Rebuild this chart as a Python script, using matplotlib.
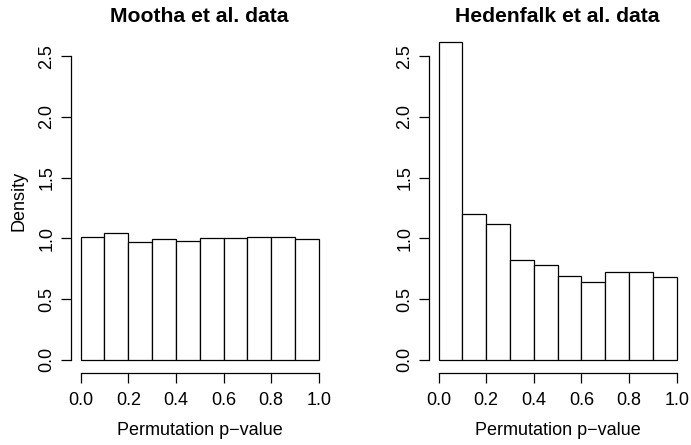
import matplotlib
matplotlib.use("Agg")
import matplotlib.pyplot as plt

plt.rcParams['font.family'] = ['Liberation Sans', 'DejaVu Sans']

# histogram bins (left edges) and densities for the two data sets
bin_left = [0.0, 0.1, 0.2, 0.3, 0.4, 0.5, 0.6, 0.7, 0.8, 0.9]
bin_width = 0.1
mootha = [1.014, 1.044, 0.970, 0.992, 0.978, 1.003, 1.000, 1.011, 1.014, 0.997]
hedenfalk = [2.617, 1.202, 1.120, 0.825, 0.781, 0.689, 0.639, 0.721, 0.724, 0.683]
titles = ["Mootha et al. data", "Hedenfalk et al. data"]
xticks = [0.0, 0.2, 0.4, 0.6, 0.8, 1.0]
yticks = [0.0, 0.5, 1.0, 1.5, 2.0, 2.5]

fig = plt.figure(figsize=(6.91, 4.45), dpi=100)
ax1 = fig.add_axes([0.103, 0.1625, 0.372, 0.7726])
ax2 = fig.add_axes([0.621, 0.1625, 0.372, 0.7726])

for ax, dens, title in zip([ax1, ax2], [mootha, hedenfalk], titles):
    ax.bar(bin_left, dens, width=bin_width, align='edge',
           facecolor='white', edgecolor='black', linewidth=0.9)
    ax.set_xlim(-0.04, 1.04)
    ax.set_ylim(-0.105, 2.725)
    for s in ['top', 'right']:
        ax.spines[s].set_visible(False)
    ax.spines['bottom'].set_bounds(0, 1)
    ax.spines['left'].set_bounds(0, 2.5)
    ax.spines['bottom'].set_linewidth(0.9)
    ax.spines['left'].set_linewidth(0.9)
    ax.set_xticks(xticks)
    ax.set_xticklabels([f"{t:.1f}" for t in xticks])
    ax.set_yticks(yticks)
    ax.set_yticklabels([f"{t:.1f}" for t in yticks])
    ax.tick_params(length=7, width=0.9, labelsize=13)
    ax.tick_params(axis='x', pad=7)
    ax.tick_params(axis='y', labelrotation=90, pad=4.5)
    for lab in ax.get_yticklabels():
        lab.set_va('center')
    ax.set_xlabel("Permutation p\u2212value", fontsize=13, labelpad=9)
    ax.set_title(title, fontsize=15.2, fontweight='bold', pad=5)

ax1.set_ylabel("Density", fontsize=13, labelpad=8)

fig.savefig("out.png", dpi=100)
